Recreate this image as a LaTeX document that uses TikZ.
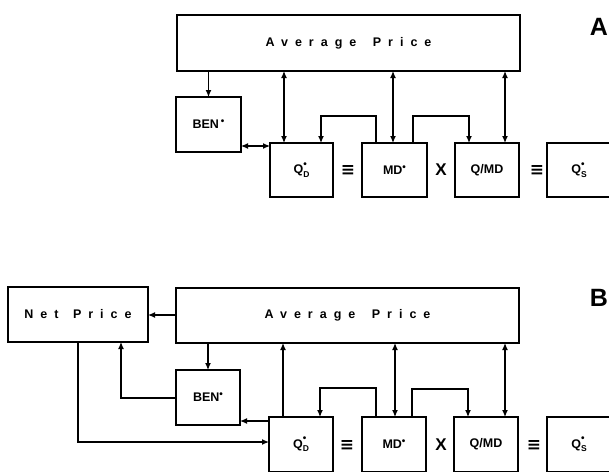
\documentclass[tikz,border=0pt]{standalone}
\usepackage{fontspec}
\setmainfont{Liberation Sans}
\newfontfamily\spfont[LetterSpace=56]{Liberation Sans}
\newfontfamily\symfont{DejaVu Sans}
\usetikzlibrary{arrows.meta}
\newcommand\qlab[1]{Q\rlap{\raisebox{0.5em}{\fontsize{10}{10}\selectfont •}}\raisebox{-0.3em}{\fontsize{8.5}{8.5}\selectfont #1}}
\newcommand\sdot{\raisebox{0.32em}{\fontsize{10}{10}\selectfont •}}
\tikzset{
  box/.style={draw, line width=1.2pt, inner sep=0pt, outer sep=0pt,
    font=\bfseries\fontsize{12.5}{12.5}\selectfont},
  wide/.style={box, font=\spfont\bfseries\fontsize{12.5}{12.5}\selectfont},
  ln/.style={line width=1.2pt},
  >={Latex[length=7pt,width=6pt]},
  op/.style={inner sep=0pt},
  eqv/.style={op, font=\symfont\bfseries\fontsize{17}{17}\selectfont},
  tms/.style={op, font=\bfseries\fontsize{17}{17}\selectfont},
  lab/.style={op, font=\bfseries\fontsize{25}{25}\selectfont}
}
\begin{document}
\begin{tikzpicture}[x=1pt,y=-1pt]
\useasboundingbox (0,0) rectangle (609,471);
\clip (0,0) rectangle (609,471);
\fill[white] (0,0) rectangle (609,471);
% ---------- A ----------
\node[wide, minimum width=343pt, minimum height=56pt] (avgA) at (348.5,43) {Average\hspace{6pt} Price};
\node[box, minimum width=65pt, minimum height=55pt] (benA) at (208.5,124.5) {BEN\,\sdot};
\node[box, minimum width=63pt, minimum height=54pt] (qdA) at (301.5,170) {\qlab{D}};
\node[box, minimum width=65pt, minimum height=54pt] (mdA) at (394.5,170) {MD\sdot};
\node[box, minimum width=64pt, minimum height=54pt] (qmdA) at (487,170) {Q/MD};
\node[box, minimum width=64pt, minimum height=54pt] (qsA) at (579,170) {\qlab{S}};
\node[eqv] (e1A) at (348,170) {≡};
\node[tms] (xA) at (441,170) {X};
\node[eqv] (e2A) at (537,170) {≡};
\node[lab] (labA) at (599,27) {A};
\draw[->,ln] (avgA.south -| benA) -- (benA.north);
\draw[<->,ln] (benA.east |- 0,146) -- (qdA.west |- 0,146);
\draw[<->,ln] (avgA.south -| 284,0) -- (qdA.north -| 284,0);
\draw[->,ln] (mdA.north -| 376,0) -- (376,116) -- (321,116) -- (qdA.north -| 321,0);
\draw[<->,ln] (avgA.south -| 393,0) -- (mdA.north -| 393,0);
\draw[->,ln] (mdA.north -| 413,0) -- (413,116) -- (469,116) -- (qmdA.north -| 469,0);
\draw[<->,ln] (avgA.south -| 505,0) -- (qmdA.north -| 505,0);
% ---------- B ----------
\node[wide, minimum width=140pt, minimum height=55pt] (netB) at (78,314.5) {Net\hspace{4pt} Price};
\node[wide, minimum width=343pt, minimum height=55pt] (avgB) at (347.5,315.5) {Average\hspace{6pt} Price};
\node[box, minimum width=64pt, minimum height=55pt] (benB) at (208,397.5) {BEN\sdot};
\node[box, minimum width=64pt, minimum height=55pt] (qdB) at (301,444.5) {\qlab{D}};
\node[box, minimum width=64pt, minimum height=55pt] (mdB) at (394,444.5) {MD\sdot};
\node[box, minimum width=64pt, minimum height=55pt] (qmdB) at (486,444.5) {Q/MD};
\node[box, minimum width=64pt, minimum height=55pt] (qsB) at (579,444.5) {\qlab{S}};
\node[eqv] (e1B) at (347,445) {≡};
\node[tms] (xB) at (441,445) {X};
\node[eqv] (e2B) at (534,445) {≡};
\node[lab] (labB) at (599,298) {B};
\draw[->,ln] (avgB.west |- 0,315) -- (netB.east |- 0,315);
\draw[->,ln] (netB.south -| 78,0) -- (78,442) -- (qdB.west |- 0,442);
\draw[->,ln] (benB.west |- 0,398) -- (121,398) -- (netB.south -| 121,0);
\draw[->,ln] (avgB.south -| benB) -- (benB.north);
\draw[->,ln] (qdB.west |- 0,421) -- (benB.east |- 0,421);
\draw[->,ln] (qdB.north -| 283,0) -- (avgB.south -| 283,0);
\draw[->,ln] (mdB.north -| 376,0) -- (376,388) -- (320,388) -- (qdB.north -| 320,0);
\draw[<->,ln] (avgB.south -| 395,0) -- (mdB.north -| 395,0);
\draw[->,ln] (mdB.north -| 412,0) -- (412,389) -- (468,389) -- (qmdB.north -| 468,0);
\draw[<->,ln] (avgB.south -| 505,0) -- (qmdB.north -| 505,0);
\end{tikzpicture}
\end{document}
